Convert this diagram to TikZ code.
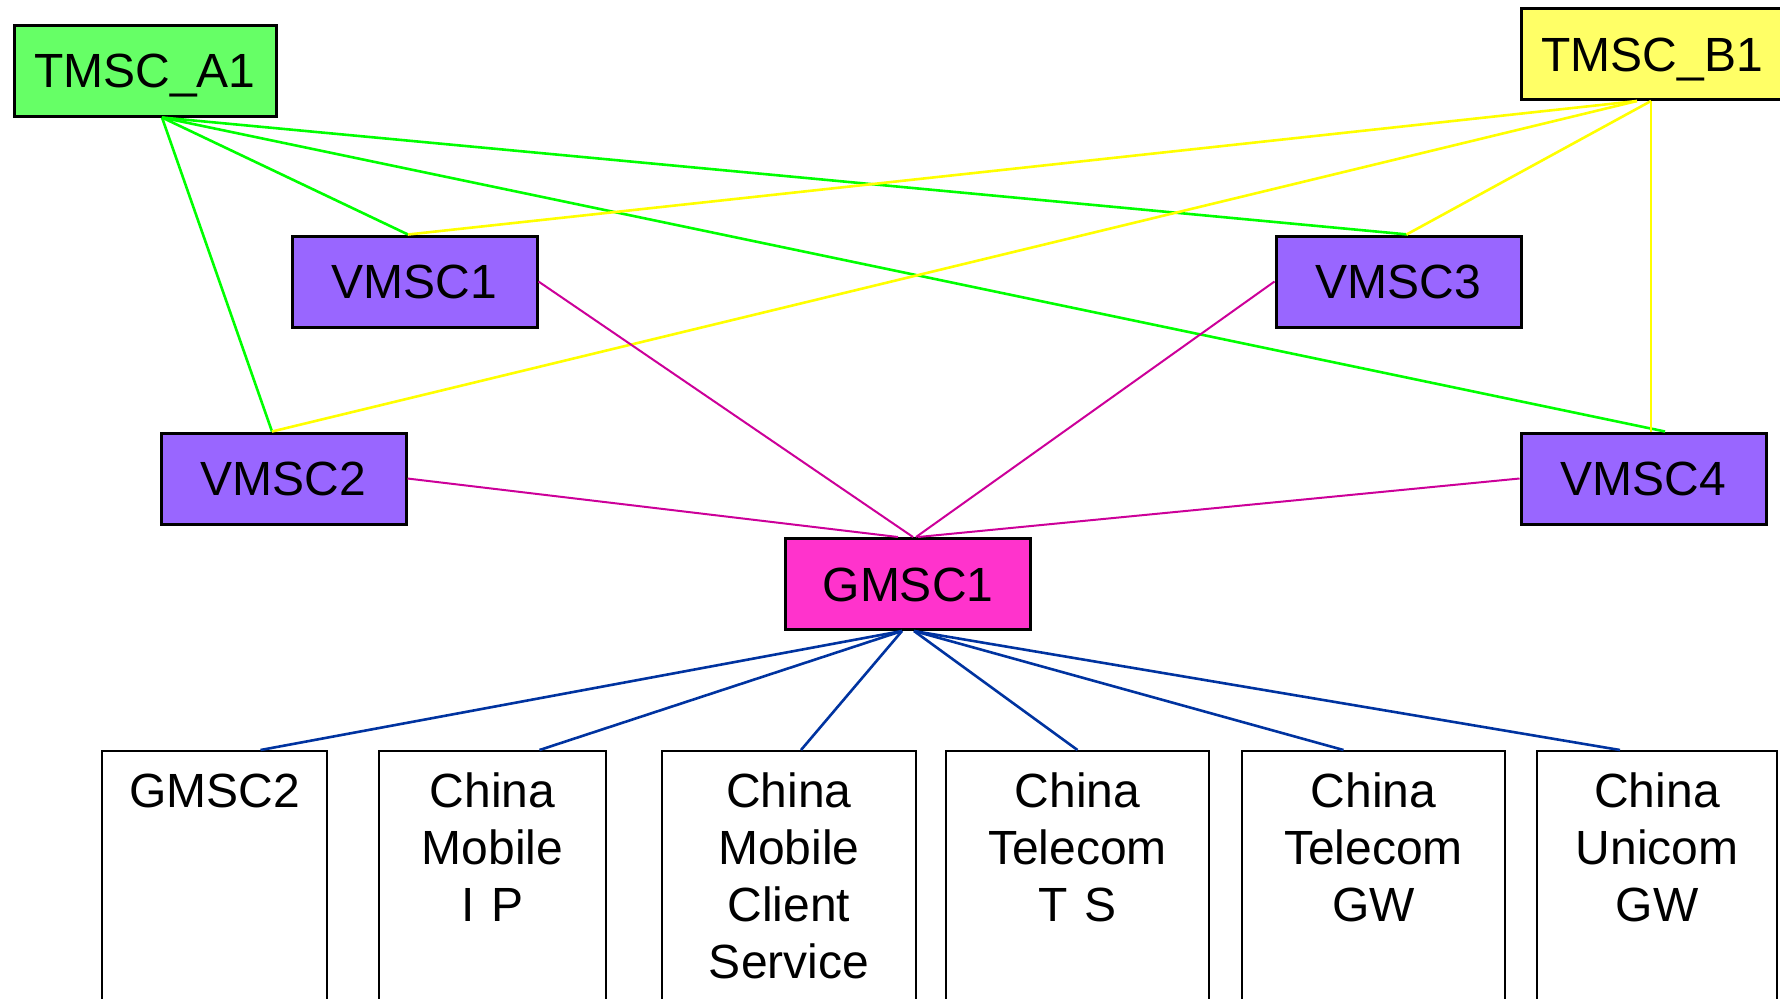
\documentclass[tikz,border=0pt]{standalone}
\usepackage{fontspec}
\setmainfont{Liberation Sans}
\usetikzlibrary{positioning}

\definecolor{tmscA}{RGB}{102,255,102}
\definecolor{tmscB}{RGB}{255,255,102}
\definecolor{vmsc}{RGB}{153,102,255}
\definecolor{gmsc}{RGB}{255,51,204}
\definecolor{wireA}{RGB}{0,255,0}
\definecolor{wireB}{RGB}{255,255,0}
\definecolor{wireG}{RGB}{204,0,153}
\definecolor{wireL}{RGB}{0,51,160}

\tikzset{
  msc/.style  = {draw=black, line width=1.5pt, minimum width=122.5pt,
                 minimum height=45.5pt, inner sep=0pt, text height=17pt,
                 text depth=0pt, font=\fontsize{24}{28.5}\selectfont},
  tmsc/.style = {msc, minimum width=131pt},
  leaf/.style = {draw=black, line width=1.1pt, fill=white, anchor=north,
                 inner sep=0pt, align=center, text height=28pt,
                 text depth=140pt, font=\fontsize{24}{28.5}\selectfont}
}

\begin{document}
\begin{tikzpicture}[x=0.5pt, y=-0.5pt]
  \useasboundingbox (0,0) rectangle (1780,998);
  \clip (0,0) rectangle (1780,998);

  \node[tmsc, fill=tmscA] (a1)    at ( 145.0, 70.5) {TMSC\_A1\hspace{4pt}};
  \node[tmsc, fill=tmscB] (b1)    at (1652.0, 54.0) {TMSC\_B1\hspace{4pt}};
  \node[msc, fill=vmsc]   (vmsc1) at ( 414.5,281.5) {VMSC1};
  \node[msc, fill=vmsc]   (vmsc3) at (1398.5,281.5) {VMSC3};
  \node[msc, fill=vmsc]   (vmsc2) at ( 283.5,478.5) {VMSC2};
  \node[msc, fill=vmsc]   (vmsc4) at (1643.5,478.5) {VMSC4};
  \node[msc, fill=gmsc]   (gmsc1) at ( 908.0,584.0) {GMSC1};

  \node[leaf, text width=112.5pt] (gmsc2) at ( 214.5,750) {GMSC2};
  \node[leaf, text width=113.5pt] (cmip)  at ( 492.5,750) {China\\Mobile\\I P};
  \node[leaf, text width=127.0pt] (cmcs)  at ( 789.0,750) {China\\Mobile\\Client\\Service};
  \node[leaf, text width=131.5pt] (ctts)  at (1077.5,750) {China\\Telecom\\T S};
  \node[leaf, text width=131.5pt] (ctgw)  at (1373.5,750) {China\\Telecom\\GW};
  \node[leaf, text width=120.0pt] (cugw)  at (1657.0,750) {China\\Unicom\\GW};

  % TMSC_A1 trunks
  \tikzset{link/.style = {line width=1.3pt, wireA}}
  \draw[link] ([xshift=8.5pt]a1.south) -- ([xshift=-3.25pt]vmsc1.north);
  \draw[link] ([xshift=8.5pt]a1.south) -- ([xshift=-5.75pt]vmsc2.north);
  \draw[link] ([xshift=8.5pt]a1.south) -- ([xshift=4.75pt]vmsc3.north);
  \draw[link] ([xshift=8.5pt]a1.south) -- ([xshift=10.75pt]vmsc4.north);

  % TMSC_B1 trunks
  \tikzset{link/.style = {line width=1.3pt, wireB}}
  \draw[link] ([xshift=-7.5pt]b1.south) -- ([xshift=-3.25pt]vmsc1.north);
  \draw[link] ([xshift=-7.5pt]b1.south) -- ([xshift=-5.75pt]vmsc2.north);
  \draw[link] ([xshift=-0.5pt]b1.south) -- ([xshift=4.0pt]vmsc3.north);
  \draw[link] ([xshift=-0.5pt]b1.south) -- ([xshift=3.75pt]vmsc4.north);

  % VMSC to GMSC1
  \tikzset{link/.style = {line width=1pt, wireG}}
  \draw[link] (vmsc1.east) -- ([xshift=2.5pt]gmsc1.north);
  \draw[link] (vmsc3.west) -- ([xshift=4.0pt]gmsc1.north);
  \draw[link] (vmsc2.east) -- ([xshift=-5.0pt]gmsc1.north);
  \draw[link] (vmsc4.west) -- ([xshift=5.0pt]gmsc1.north);

  % GMSC1 to the other networks
  \tikzset{link/.style = {line width=1.3pt, wireL}}
  \draw[link] ([xshift=-3pt]gmsc1.south) -- ([xshift=23.0pt]gmsc2.north);
  \draw[link] ([xshift=-3pt]gmsc1.south) -- ([xshift=23.5pt]cmip.north);
  \draw[link] ([xshift=-3pt]gmsc1.south) -- ([xshift=6.0pt]cmcs.north);
  \draw[link] ([xshift=3pt]gmsc1.south) -- (ctts.north);
  \draw[link] ([xshift=3pt]gmsc1.south) -- ([xshift=-15.0pt]ctgw.north);
  \draw[link] ([xshift=3pt]gmsc1.south) -- ([xshift=-18.5pt]cugw.north);
\end{tikzpicture}
\end{document}
